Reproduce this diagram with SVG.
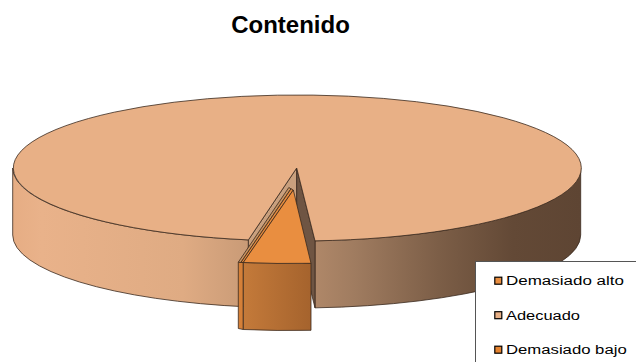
<svg xmlns="http://www.w3.org/2000/svg" width="636" height="362" viewBox="0 0 636 362">
  <defs>
    <linearGradient id="sideGrad" gradientUnits="userSpaceOnUse" x1="12.7" y1="0" x2="580.7" y2="0">
      <stop offset="0" stop-color="#e6ad84"/>
      <stop offset="0.05" stop-color="#e9b28a"/>
      <stop offset="0.3" stop-color="#dfab83"/>
      <stop offset="0.42" stop-color="#c89a76"/>
      <stop offset="0.6" stop-color="#a07c60"/>
      <stop offset="0.75" stop-color="#7c5e47"/>
      <stop offset="0.88" stop-color="#634936"/>
      <stop offset="1" stop-color="#5e4533"/>
    </linearGradient>
    <linearGradient id="frontGrad" gradientUnits="userSpaceOnUse" x1="243.3" y1="0" x2="311" y2="0">
      <stop offset="0" stop-color="#c47a3a"/>
      <stop offset="1" stop-color="#a5632d"/>
    </linearGradient>
  </defs>
  <style>
    .edge { stroke: #3a2a1e; stroke-width: 0.8; stroke-linejoin: round; }
    .lbl { font-family: "Liberation Sans", Arial, sans-serif; font-size: 12.5px; fill: #000; }
    .mk { stroke: #000; stroke-width: 1.2; }
  </style>

  <text x="290.5" y="33.3" text-anchor="middle" font-family="Liberation Sans, Arial, sans-serif" font-size="24" font-weight="bold" fill="#000">Contenido</text>

  <g id="pie-adecuado">
    <path class="edge" fill="url(#sideGrad)" d="M 248.4 239.9 A 284 73 0 0 1 12.7 168 L 12.7 235 A 284 73 0 0 0 248.4 306.9 Z"/>
    <path class="edge" fill="url(#sideGrad)" d="M 580.7 168 A 284 73 0 0 1 315 240.85 L 315 307.85 A 284 73 0 0 0 580.7 235 Z"/>
    <path class="edge" fill="#c9a07e" d="M 296.7 168 L 248.4 239.9 L 248.4 306.9 L 296.7 235 Z"/>
    <path class="edge" fill="#6f5543" d="M 296.7 168 L 315 240.85 L 315 307.85 L 296.7 235 Z"/>
    <path class="edge" fill="#e8b086" d="M 296.7 168 L 315 240.85 A 284 73 0 1 0 248.4 239.9 Z"/>
  </g>

  <g id="slice-demasiado-bajo">
    <path class="edge" fill="#d58038" d="M 238.3 262.2 L 243.3 262.5 L 243.3 329.5 L 238.3 328.5 Z"/>
    <path class="edge" fill="#c8925f" d="M 288.8 187.5 L 238.3 262.2 L 241 262.4 L 291 188.8 Z"/>
    <path class="edge" fill="#e3893d" d="M 291 188.8 L 241 262.4 L 243.3 262.5 L 293.3 190 Z"/>
  </g>

  <g id="slice-demasiado-alto">
    <path class="edge" fill="url(#frontGrad)" d="M 311 263.3 A 284 73 0 0 1 243.3 262.5 L 243.3 329.5 A 284 73 0 0 0 311 330.3 Z"/>
    <path class="edge" fill="#e98e40" d="M 293.3 190 L 311 263.3 A 284 73 0 0 1 243.3 262.5 Z"/>
  </g>

  <g id="legend">
    <rect x="475.5" y="261.5" width="200" height="150" fill="#ffffff" stroke="#555555" stroke-width="1"/>
    <rect class="mk" x="494.8" y="277.2" width="7" height="7" fill="#e98e40"/>
    <text class="lbl" x="506" y="285" textLength="118" lengthAdjust="spacingAndGlyphs">Demasiado alto</text>
    <rect class="mk" x="494.8" y="311.7" width="7" height="7" fill="#e8b086"/>
    <text class="lbl" x="506" y="319.5" textLength="74" lengthAdjust="spacingAndGlyphs">Adecuado</text>
    <rect class="mk" x="494.8" y="346.2" width="7" height="7" fill="#e5832f"/>
    <text class="lbl" x="506" y="354" textLength="120.7" lengthAdjust="spacingAndGlyphs">Demasiado bajo</text>
  </g>
</svg>
